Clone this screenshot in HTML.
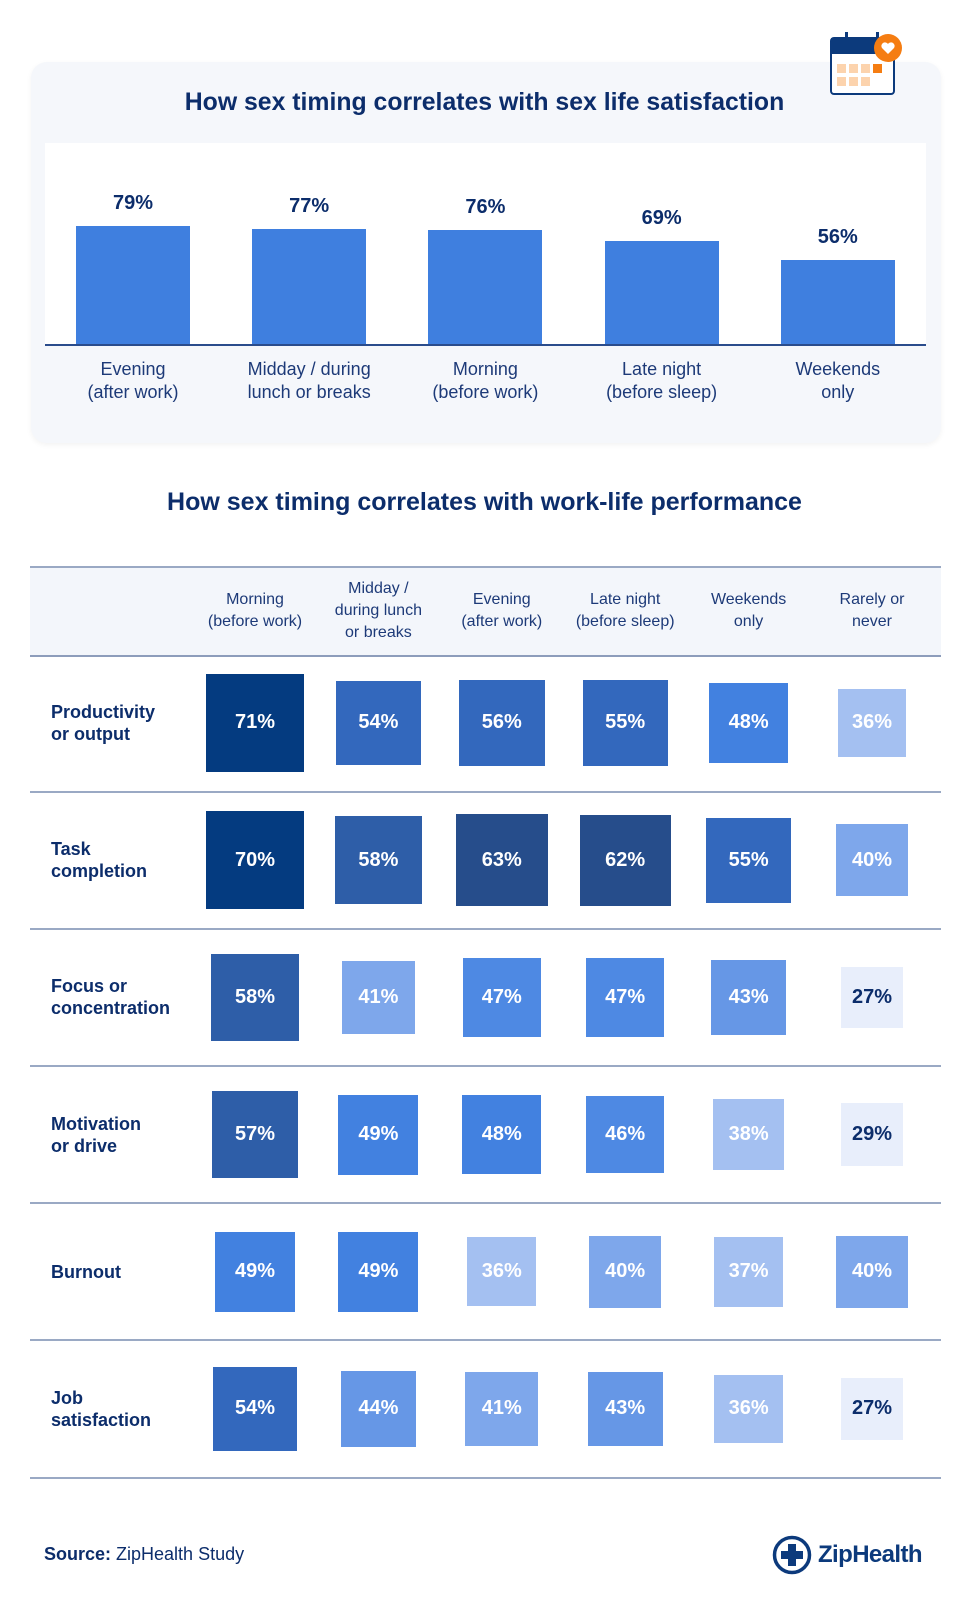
<!DOCTYPE html>
<html><head><meta charset="utf-8">
<style>
html,body{margin:0;padding:0;background:#fff;}
body{width:969px;height:1600px;position:relative;overflow:hidden;font-family:"Liberation Sans",sans-serif;color:#0c2d6b;}
.abs{position:absolute;}
.card{left:31px;top:62px;width:910px;height:381px;background:#f5f7fb;border-radius:16px;box-shadow:0 2px 6px rgba(0,0,0,0.05);}
.t1{left:0;width:969px;top:89px;text-align:center;font-size:24.8px;font-weight:bold;}
.t2{left:0;width:969px;top:488px;text-align:center;font-size:25px;font-weight:bold;}
.plot{left:45px;top:143px;width:881px;height:201px;background:#fff;border-bottom:2px solid #2a4c8c;}
.bar{background:#3f7fdf;}
.bval{font-size:20px;font-weight:bold;text-align:center;width:120px;}
.blab{font-size:18px;text-align:center;width:170px;line-height:23px;color:#1d3a78;}
.hdr{left:30px;top:566px;width:911px;height:87px;background:#f3f6fb;border-top:2px solid #9aa9c4;border-bottom:2px solid #8d9dbb;}
.htxt{font-size:16px;text-align:center;width:124px;line-height:22px;color:#1d3a78;}
.sep{left:30px;width:911px;height:2px;background:#9aa9c4;}
.rlab{left:51px;font-size:18px;font-weight:bold;line-height:22px;}
.cell{display:flex;align-items:center;justify-content:center;font-weight:bold;font-size:20px;color:#fff;}
</style></head><body>
<div class="abs card"></div>
<svg class="abs" style="left:828px;top:30px" width="76" height="68">
<rect x="3" y="8" width="63" height="56" rx="3" fill="#fff" stroke="#0c3a7c" stroke-width="2"/>
<rect x="3" y="8" width="63" height="16" fill="#0c3a7c"/>
<rect x="17" y="2" width="3" height="12" fill="#0c3a7c"/><rect x="48" y="2" width="3" height="12" fill="#0c3a7c"/>
<rect x="9" y="34" width="9" height="9" fill="#fcd3ad"/><rect x="21" y="34" width="9" height="9" fill="#fcd3ad"/><rect x="33" y="34" width="9" height="9" fill="#fcd3ad"/><rect x="45" y="34" width="9" height="9" fill="#f57d12"/>
<rect x="9" y="47" width="9" height="9" fill="#fcd3ad"/><rect x="21" y="47" width="9" height="9" fill="#fcd3ad"/><rect x="33" y="47" width="9" height="9" fill="#fcd3ad"/>
<circle cx="60" cy="18" r="14" fill="#f57d12"/>
<path d="M60 24 L54 18 A3.5 3.5 0 0 1 60 14 A3.5 3.5 0 0 1 66 18 Z" fill="#fff"/>
</svg>
<div class="abs t1">How sex timing correlates with sex life satisfaction</div>
<div class="abs plot"></div>
<div id="bars"></div>

<div class="abs t2">How sex timing correlates with work-life performance</div>
<div class="abs hdr"></div>
<div id="table"></div>

<div class="abs" style="left:44px;top:1544px;font-size:18px;"><b>Source:</b> ZipHealth Study</div>
<svg class="abs" style="left:772px;top:1535px" width="40" height="40">
<circle cx="20" cy="20" r="17.5" fill="none" stroke="#0c3a7c" stroke-width="3.5"/>
<rect x="16" y="9" width="8" height="22" fill="#0c3a7c"/><rect x="9" y="16" width="22" height="8" fill="#0c3a7c"/>
</svg>
<div class="abs" style="left:818px;top:1541px;font-size:24px;font-weight:bold;color:#0c3a7c;letter-spacing:-0.6px">ZipHealth</div>

<script>
const barCategories = [["Evening","(after work)"],["Midday / during","lunch or breaks"],["Morning","(before work)"],["Late night","(before sleep)"],["Weekends","only"]];
const barValues = [79,77,76,69,56];

const colHeaders = [["Morning","(before work)"],["Midday /","during lunch","or breaks"],["Evening","(after work)"],["Late night","(before sleep)"],["Weekends","only"],["Rarely or","never"]];
const rowLabels = [["Productivity","or output"],["Task","completion"],["Focus or","concentration"],["Motivation","or drive"],["Burnout"],["Job","satisfaction"]];
const rowProductivity = [71,54,56,55,48,36];
const rowTask = [70,58,63,62,55,40];
const rowFocus = [58,41,47,47,43,27];
const rowMotivation = [57,49,48,46,38,29];
const rowBurnout = [49,49,36,40,37,40];
const rowJob = [54,44,41,43,36,27];
const tableRows = [rowProductivity,rowTask,rowFocus,rowMotivation,rowBurnout,rowJob];

// bar chart axes
const baseY = 344, pxPerPct = 1.5, x0 = 133, xStep = 176.2, barW = 114;
const xScale = i => x0 + i*xStep;
const yScale = v => baseY - v*pxPerPct;
const bars = document.getElementById('bars');
barValues.forEach((v,i)=>{
  const b=document.createElement('div');
  b.className='abs bar';
  
  
  b.style.left=(xScale(i)-barW/2)+'px'; b.style.top=yScale(v)+'px';
  b.style.width=barW+'px'; b.style.height=(baseY-yScale(v))+'px';
  bars.appendChild(b);
  const l=document.createElement('div');
  l.className='abs bval'; l.textContent=v+'%';
  
  
  l.style.left=(xScale(i)-60)+'px'; l.style.top=(yScale(v)-34)+'px';
  bars.appendChild(l);
  const c=document.createElement('div');
  c.className='abs blab'; c.innerHTML=barCategories[i].join('<br>');
  
  
  c.style.left=(xScale(i)-85)+'px'; c.style.top='358px';
  bars.appendChild(c);
});

// table
const colX0 = 255, colStep = 123.4, rowY0 = 723, rowStep = 137.2;
const colX = j => colX0 + j*colStep;
const rowY = i => rowY0 + i*rowStep;
const boxSize = v => 38 + v*0.857;
function cellColor(v){
  if(v>=68) return '#043b80';
  if(v>=60) return '#264d8b';
  if(v>=57) return '#2e5ea8';
  if(v>=52) return '#3368bd';
  if(v>=48) return '#4281e0';
  if(v>=45) return '#4e89e3';
  if(v>=42) return '#6697e6';
  if(v>=39) return '#7ea7eb';
  if(v>=33) return '#a4c0f1';
  return '#e8eefb';
}
const tb=document.getElementById('table');
colHeaders.forEach((h,j)=>{
  const d=document.createElement('div');
  d.className='abs htxt'; d.innerHTML=h.join('<br>');
  
  
  d.style.left=(colX(j)-62)+'px'; d.style.top=(611-h.length*11)+'px';
  tb.appendChild(d);
});
tableRows.forEach((row,i)=>{
  const lab=document.createElement('div');
  lab.className='abs rlab'; lab.innerHTML=rowLabels[i].join('<br>');
  
  
  lab.style.top=(rowY(i)-rowLabels[i].length*11)+'px';
  tb.appendChild(lab);
  row.forEach((v,j)=>{
    const s=boxSize(v);
    const c=document.createElement('div');
    c.className='abs cell'; c.textContent=v+'%';
    
    
    c.style.left=(colX(j)-s/2)+'px'; c.style.top=(rowY(i)-s/2)+'px';
    c.style.width=s+'px'; c.style.height=s+'px';
    c.style.background=cellColor(v);
    if(v<33) c.style.color='#0c2d6b';
    tb.appendChild(c);
  });
  const sp=document.createElement('div');
  sp.className='abs sep';
  
  
  sp.style.top=(rowY(i)+rowStep/2-1)+'px';
  tb.appendChild(sp);
});
</script>
</body></html>
